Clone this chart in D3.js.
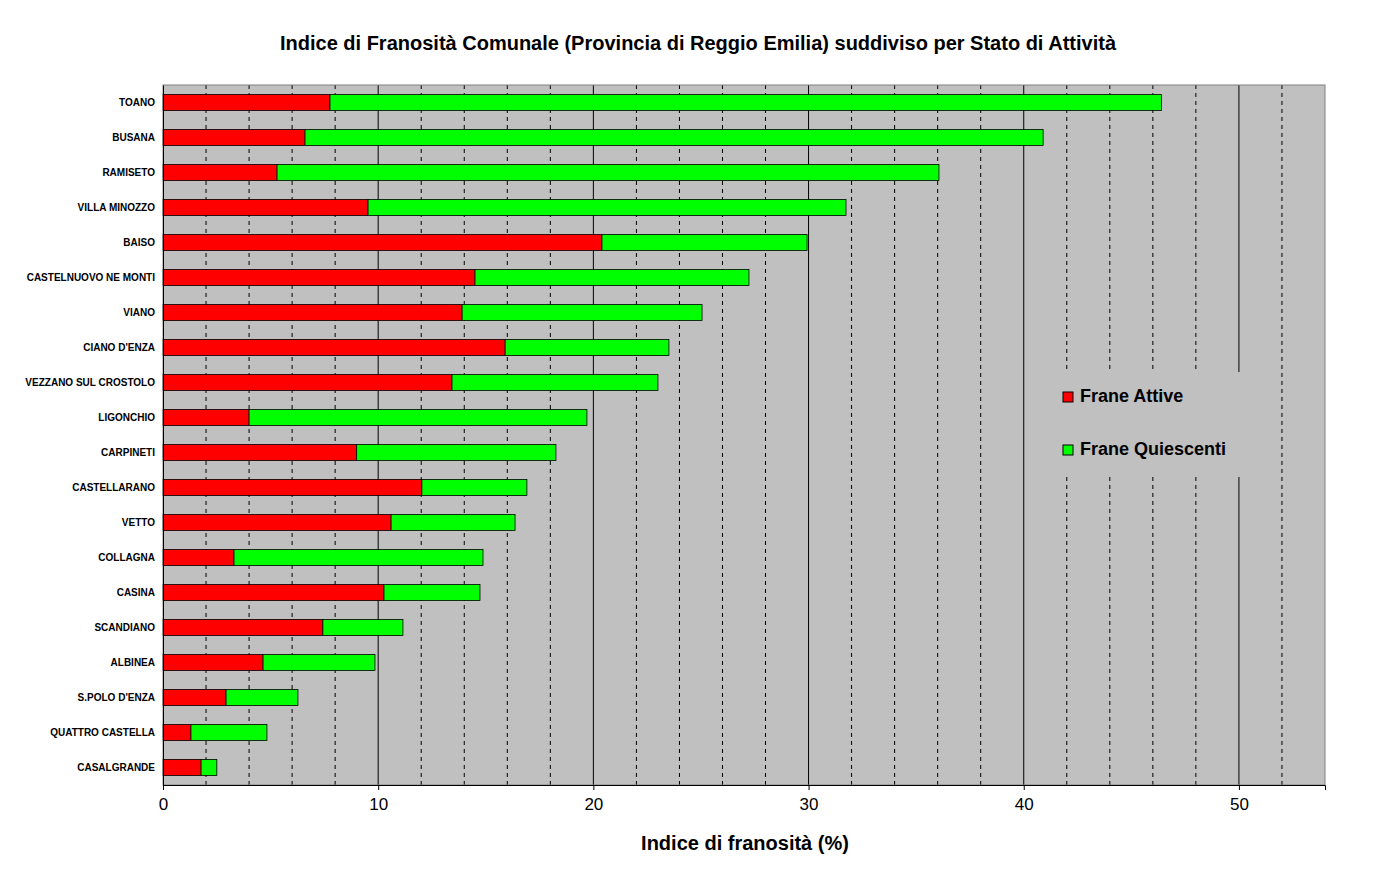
<!DOCTYPE html>
<html><head><meta charset="utf-8">
<script src="https://cdn.jsdelivr.net/npm/d3@7"></script>
<style>body{margin:0;background:#fff}text{font-family:Arial,"Liberation Sans",sans-serif}</style>
</head><body><svg></svg>
<script>
var comuni = ['TOANO','BUSANA','RAMISETO','VILLA MINOZZO','BAISO','CASTELNUOVO NE MONTI','VIANO',"CIANO D'ENZA",'VEZZANO SUL CROSTOLO','LIGONCHIO','CARPINETI','CASTELLARANO','VETTO','COLLAGNA','CASINA','SCANDIANO','ALBINEA',"S.POLO D'ENZA",'QUATTRO CASTELLA','CASALGRANDE'];
var attive = [7.76,6.6,5.3,9.53,20.4,14.5,13.9,15.9,13.43,4.0,9.0,12.03,10.6,3.3,10.27,7.43,4.65,2.93,1.3,1.77];
var quiescenti = [38.64,34.3,30.76,22.21,9.53,12.73,11.15,7.61,9.57,15.7,9.26,4.88,5.76,11.57,4.46,3.72,5.2,3.34,3.53,0.73];
var xTicks = [0,10,20,30,40,50];

var margin = {left:163, right:71, top:85, bottom:87};
var width = 1396 - margin.left - margin.right;
var height = 872 - margin.top - margin.bottom;

var svg = d3.select('svg').attr('width',1396).attr('height',872);
var g = svg.append('g').attr('transform','translate(' + margin.left + ',' + margin.top + ')');

var x = d3.scaleLinear().domain([0,54]).range([0,width]);
var y = d3.scaleBand().domain(comuni).range([0,height]).paddingInner(0.54).paddingOuter(0.27);

g.append('rect').attr('width',width).attr('height',height).attr('fill','#c0c0c0');

// dashed minor grid every 2, solid every 10
g.selectAll('.minor').data(d3.range(2,54,2).filter(function(d){return d % 10 != 0;}))
  .enter().append('line')
  .attr('x1',x).attr('x2',x).attr('y1',0).attr('y2',height)
  .attr('stroke','#000').attr('stroke-dasharray','4,4');
g.selectAll('.major').data([10,20,30,40,50])
  .enter().append('line')
  .attr('x1',x).attr('x2',x).attr('y1',0).attr('y2',height)
  .attr('stroke','#000');

// legend box covers grid
g.append('rect').attr('x',877).attr('y',287).attr('width',228).attr('height',105).attr('fill','#c0c0c0');

g.selectAll('.att').data(comuni).enter().append('rect')
  .attr('x',x(0)).attr('y',function(d){return y(d);})
  .attr('width',function(d,i){return x(attive[i]);})
  .attr('height',y.bandwidth())
  .attr('fill','#ff0000').attr('stroke','#000').attr('stroke-width',0.8);
g.selectAll('.qui').data(comuni).enter().append('rect')
  .attr('x',function(d,i){return x(attive[i]);}).attr('y',function(d){return y(d);})
  .attr('width',function(d,i){return x(attive[i]+quiescenti[i]) - x(attive[i]);})
  .attr('height',y.bandwidth())
  .attr('fill','#00ff00').attr('stroke','#000').attr('stroke-width',0.8);

g.append('rect').attr('width',width).attr('height',height).attr('fill','none').attr('stroke','#808080');

// axes
var xAxis = g.append('g').attr('transform','translate(0,' + height + ')')
  .call(d3.axisBottom(x).tickValues(xTicks).tickSize(5).tickPadding(8));
xAxis.select('.domain').attr('stroke','#000');
xAxis.selectAll('text').attr('font-size','17px').attr('fill','#000');

var yAxis = g.append('g').call(d3.axisLeft(y).tickSize(0).tickPadding(8));
yAxis.select('.domain').attr('stroke','#000');
yAxis.selectAll('text').attr('font-size','10px').attr('font-weight','bold').attr('fill','#000');

// legend
var legendItems = [['Frane Attive','#ff0000'],['Frane Quiescenti','#00ff00']];
var lg = g.selectAll('.lg').data(legendItems).enter().append('g')
  .attr('transform',function(d,i){return 'translate(900,' + (307 + i*53) + ')';});
lg.append('rect').attr('width',10).attr('height',10).attr('fill',function(d){return d[1];}).attr('stroke','#000');
lg.append('text').attr('x',17).attr('y',10).attr('font-size','18px').attr('font-weight','bold').text(function(d){return d[0];});

// titles
svg.append('text').attr('x',698).attr('y',50).attr('text-anchor','middle')
  .attr('font-size','20px').attr('font-weight','bold')
  .text('Indice di Franosità Comunale (Provincia di Reggio Emilia) suddiviso per Stato di Attività');
svg.append('text').attr('x',745).attr('y',850).attr('text-anchor','middle')
  .attr('font-size','20px').attr('font-weight','bold')
  .text('Indice di franosità (%)');
</script></body></html>
